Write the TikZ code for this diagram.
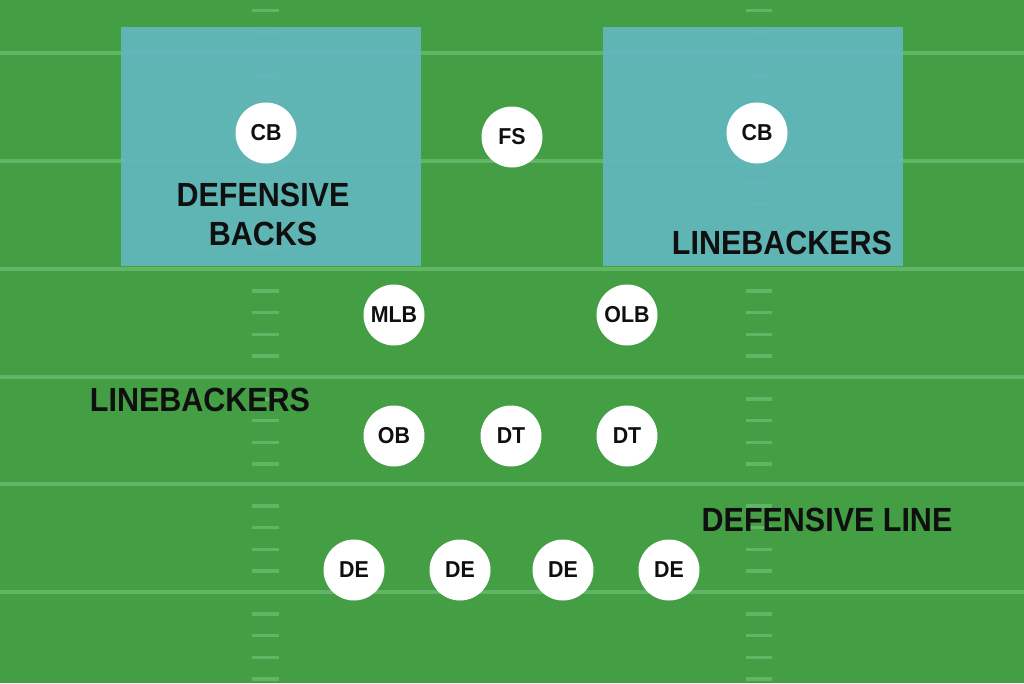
\documentclass[tikz,border=0pt]{standalone}
\usepackage{fontspec}
\setmainfont{Liberation Sans}
\definecolor{field}{RGB}{67,158,68}
\definecolor{yard}{RGB}{96,182,100}
\definecolor{zone}{RGB}{99,183,193}
\definecolor{ink}{RGB}{15,15,15}
\tikzset{
  player/.style={circle, fill=white, minimum size=61pt, inner sep=0pt, text=ink,
    font=\bfseries\fontsize{23}{23}\selectfont},
  grouplabel/.style={inner sep=0pt, text=ink, align=center,
    font=\bfseries\fontsize{33.5}{39.5}\selectfont},
  yardline/.style={draw=yard, line width=4pt},
  hashmark/.style={draw=yard, line width=3.5pt},
  zonebox/.style={fill=zone, fill opacity=0.9},
}
\newcommand{\sqz}[1]{\scalebox{0.91}[1]{#1}}
\newcommand{\sqp}[1]{\scalebox{0.93}[1]{#1}}
\begin{document}
\begin{tikzpicture}[x=1pt,y=-1pt]
  \fill[field] (0,0) rectangle (1024,683);
  \useasboundingbox (0,0) rectangle (1024,683);
  \clip (0,0) rectangle (1024,683);
  % yard lines
  \foreach \yy in {53,161,269,377,484,592}
    \draw[yardline] (0,\yy) -- (1024,\yy);
  % hash marks
  \foreach \L in {-55,53,161,269,377,484,592}
    \foreach \k in {1,...,4} {
      \pgfmathsetmacro\hy{\L+21.8*\k}
      \draw[hashmark] (252,\hy) -- (279,\hy);
      \draw[hashmark] (746,\hy) -- (772,\hy);
    }
  % zones
  \fill[zonebox] (121,27) rectangle (421,266);
  \fill[zonebox] (603,27) rectangle (903,266);
  % group labels
  \node[grouplabel] (lblDB) at (263,214.5) {\sqz{DEFENSIVE}\\\sqz{BACKS}};
  \node[grouplabel] (lblLBr) at (782,243) {\sqz{LINEBACKERS}};
  \node[grouplabel] (lblLBl) at (200,400) {\sqz{LINEBACKERS}};
  \node[grouplabel] (lblDL) at (827,520) {\sqz{DEFENSIVE LINE}};
  % players
  \node[player] (cbL) at (266,133) {\sqp{CB}};
  \node[player] (fs)  at (512,137) {\sqp{FS}};
  \node[player] (cbR) at (757,133) {\sqp{CB}};
  \node[player] (mlb) at (394,315) {\sqp{MLB}};
  \node[player] (olb) at (627,315) {\sqp{OLB}};
  \node[player] (ob)  at (394,436) {\sqp{OB}};
  \node[player] (dt1) at (511,436) {\sqp{DT}};
  \node[player] (dt2) at (627,436) {\sqp{DT}};
  \node[player] (de1) at (354,570) {\sqp{DE}};
  \node[player] (de2) at (460,570) {\sqp{DE}};
  \node[player] (de3) at (563,570) {\sqp{DE}};
  \node[player] (de4) at (669,570) {\sqp{DE}};
\end{tikzpicture}
\end{document}
